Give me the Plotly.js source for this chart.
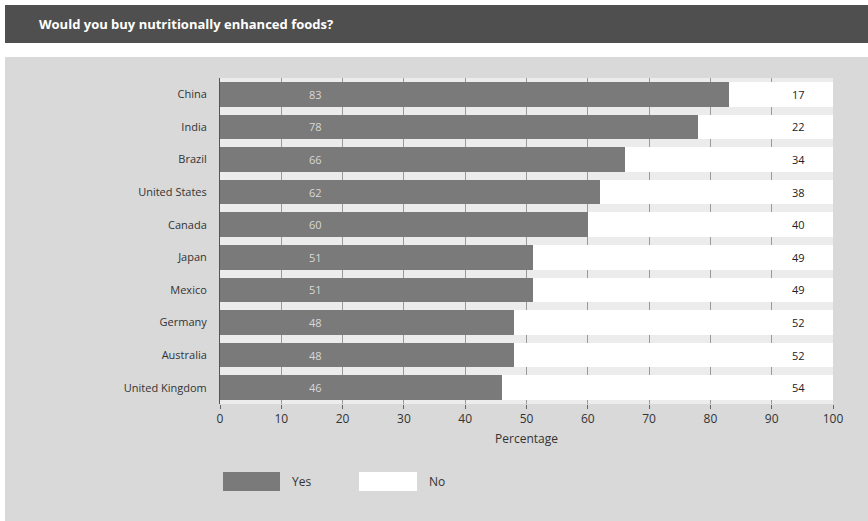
<!DOCTYPE html>
<html>
<head>
<meta charset="utf-8">
<script src="https://cdn.plot.ly/plotly-3.0.1.min.js"></script>
<style>html,body{margin:0;padding:0;background:#fff;}#chart{width:868px;height:521px;}</style>
</head>
<body>
<div id="chart"></div>
<script>
const countries = ["China","India","Brazil","United States","Canada","Japan","Mexico","Germany","Australia","United Kingdom"];
const yesValues = [83,78,66,62,60,51,51,48,48,46];
const noValues  = [17,22,34,38,40,49,49,52,52,54];
const xTicks = [0,10,20,30,40,50,60,70,80,90,100];
const seriesNames = ["Yes","No"];
const chartTitle = "Would you buy nutritionally enhanced foods?";
const xTitle = "Percentage";

const W = 868, H = 521;
const L = 220, R = 35, T = 78, B = 117;
const pw = W - L - R, ph = H - T - B;
const px = p => (p - L) / pw;          // pixel x -> paper x
const py = p => (H - B - p) / ph;      // pixel y -> paper y

const FONT = "Open Sans, DejaVu Sans, sans-serif";
const yesColor = "#7a7a7a", noColor = "#ffffff";

const traces = [
  {type:"bar", orientation:"h", name:seriesNames[0], y:countries, x:yesValues,
   marker:{color:yesColor}, hoverinfo:"x+y"},
  {type:"bar", orientation:"h", name:seriesNames[1], y:countries, x:noValues,
   marker:{color:noColor}, hoverinfo:"x+y"}
];

const annotations = [];
countries.forEach((c,i)=>{
  annotations.push({x:15.5, y:c, xref:"x", yref:"y", text:String(yesValues[i]), showarrow:false,
    font:{family:FONT, size:11, color:"#d8d8d8"}});
  annotations.push({x:94.3, y:c, xref:"x", yref:"y", text:String(noValues[i]), showarrow:false,
    font:{family:FONT, size:11, color:"#222"}});
});
// legend labels
annotations.push({x:px(290), y:py(481), xref:"paper", yref:"paper", xanchor:"left", yanchor:"middle",
  text:seriesNames[0], showarrow:false, font:{family:FONT, size:12, color:"#333"}});
annotations.push({x:px(427), y:py(481), xref:"paper", yref:"paper", xanchor:"left", yanchor:"middle",
  text:seriesNames[1], showarrow:false, font:{family:FONT, size:12, color:"#333"}});

const shapes = [
  // white top area and left strip
  {type:"rect", xref:"paper", yref:"paper", x0:px(0), x1:px(W), y0:py(57), y1:py(0), fillcolor:"#ffffff", line:{width:0}, layer:"below"},
  {type:"rect", xref:"paper", yref:"paper", x0:px(0), x1:px(5), y0:py(H), y1:py(0), fillcolor:"#ffffff", line:{width:0}, layer:"below"},
  // title bar
  {type:"rect", xref:"paper", yref:"paper", x0:px(5), x1:px(W), y0:py(43), y1:py(5), fillcolor:"#4f4f4f", line:{width:0}, layer:"below"},
  // legend boxes
  {type:"rect", xref:"paper", yref:"paper", x0:px(223), x1:px(280), y0:py(491), y1:py(472), fillcolor:yesColor, line:{width:0}},
  {type:"rect", xref:"paper", yref:"paper", x0:px(359), x1:px(417), y0:py(491), y1:py(472), fillcolor:noColor, line:{width:0}}
];

const layout = {
  width:W, height:H,
  margin:{l:L, r:R, t:T, b:B, pad:0},
  paper_bgcolor:"#d9d9d9",
  plot_bgcolor:"#ececec",
  barmode:"stack",
  bargap:0.24,
  showlegend:false,
  font:{family:FONT, size:11, color:"#333"},
  title:{text:"<b>"+chartTitle+"</b>", xref:"container", yref:"container",
    x:39/W, xanchor:"left", y:1-24/H, yanchor:"middle",
    font:{family:FONT, size:13, color:"#ffffff"}},
  xaxis:{range:[0,100], tickvals:xTicks, ticktext:xTicks.map(String),
    showgrid:true, gridcolor:"#9a9a9a", gridwidth:1, zeroline:false,
    showline:false, ticks:"outside", ticklen:4, tickcolor:"#666",
    tickfont:{family:FONT, size:12, color:"#333"},
    title:{text:xTitle, font:{family:FONT, size:12, color:"#333"}, standoff:8}},
  yaxis:{type:"category", categoryorder:"array", categoryarray:countries, autorange:"reversed",
    showgrid:false, zeroline:false, showline:true, linecolor:"#555", linewidth:1,
    ticks:"", ticklabelstandoff:10,
    tickfont:{family:FONT, size:11, color:"#333"}},
  annotations:annotations,
  shapes:shapes
};

Plotly.newPlot("chart", traces, layout, {displayModeBar:false, staticPlot:true});
</script>
</body>
</html>
